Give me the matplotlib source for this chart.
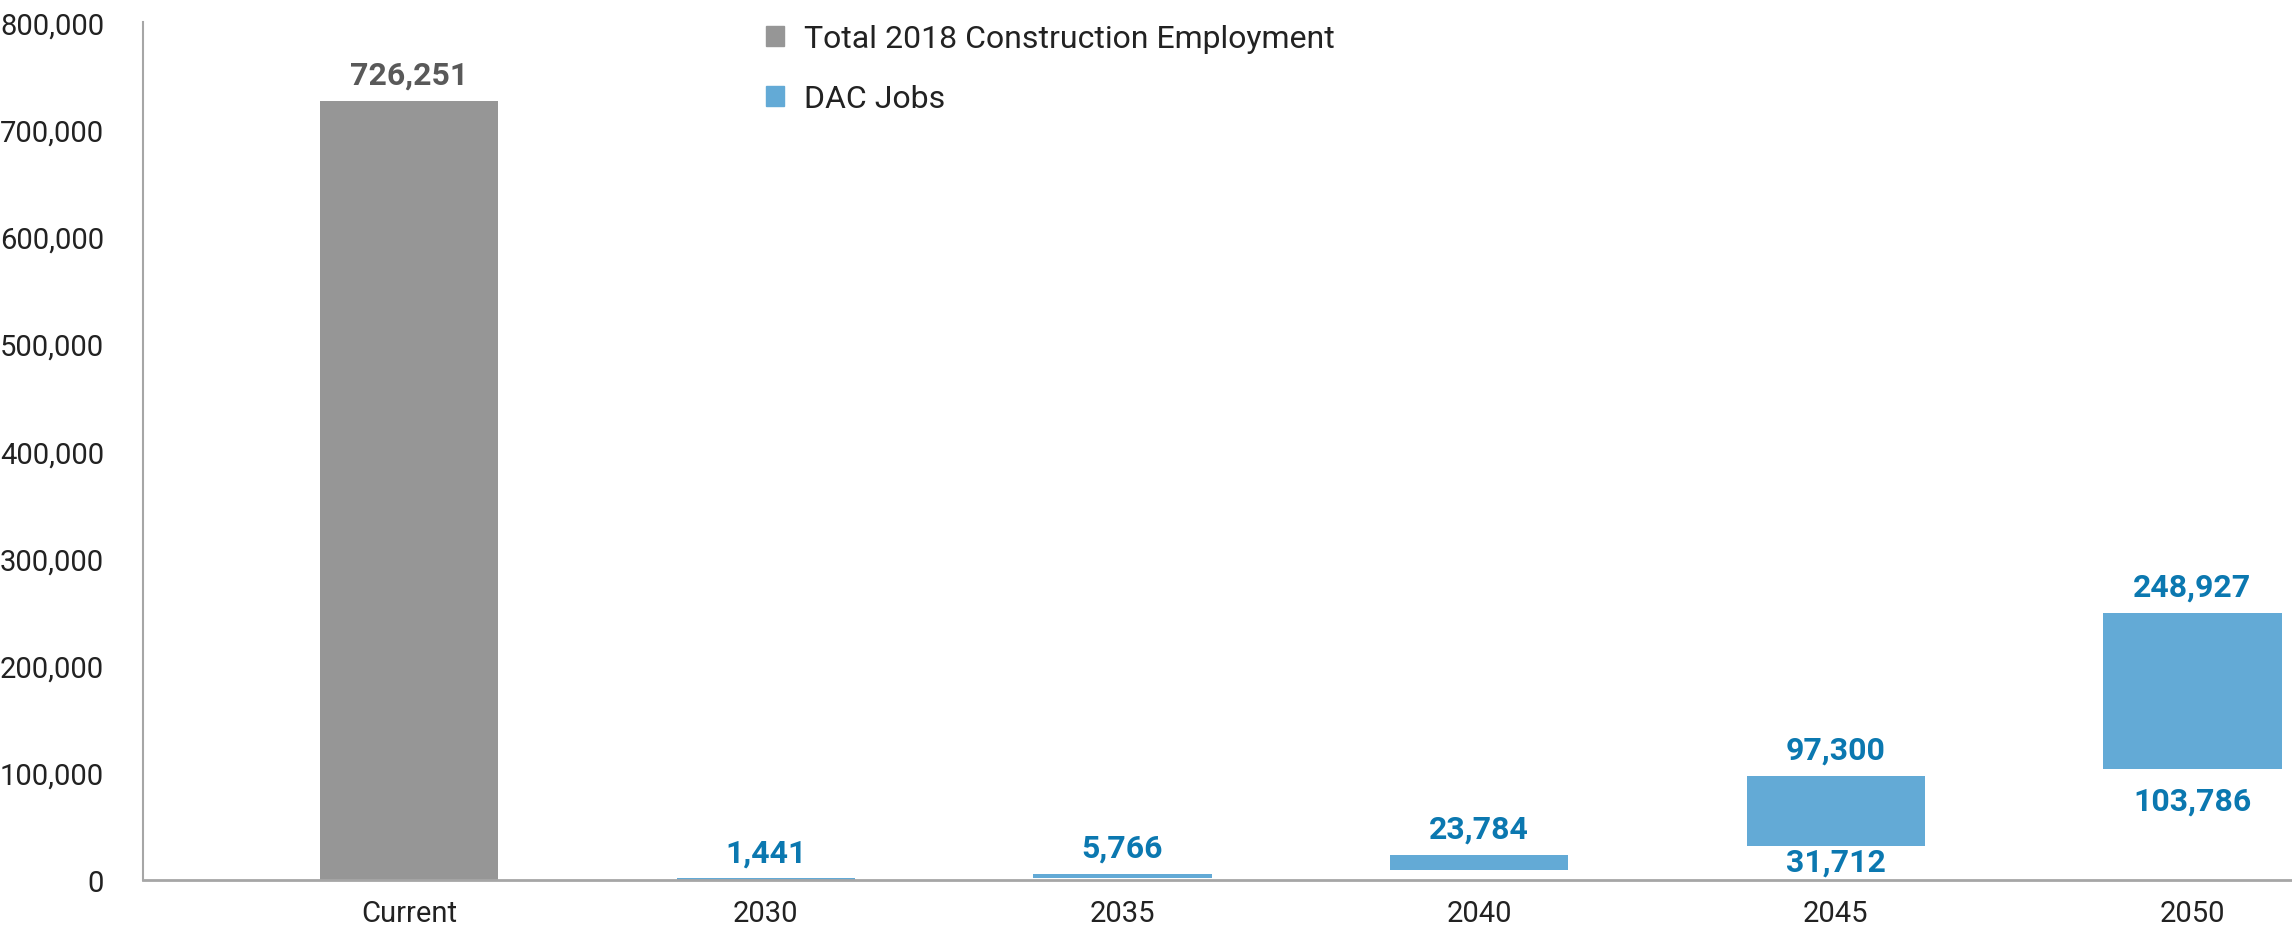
import matplotlib
matplotlib.use("Agg")
import matplotlib.pyplot as plt
from matplotlib.patches import Patch
from matplotlib.ticker import FuncFormatter, MultipleLocator
import numpy as np

# Construction employment vs. projected DAC jobs (low / high estimate)
categories = ["Current", "2030", "2035", "2040", "2045", "2050"]
low_values = [0, 360, 2000, 9500, 31712, 103786]
high_values = [726251, 1441, 5766, 23784, 97300, 248927]
show_low_label = [False, False, False, False, True, True]

GRAY = "#969696"
BLUE = "#63aad6"
LABEL_GRAY = "#595959"
LABEL_BLUE = "#0b78b0"
AXIS = "#a6a6a6"
TEXT = "#222222"

plt.rcParams["font.family"] = ["Roboto", "DejaVu Sans"]

fig = plt.figure(figsize=(22.92, 9.28), dpi=100)
ax = fig.add_axes([0.0624, 0.0506, 0.9376, 0.9244])

x = np.arange(len(categories))
low = np.array(low_values)
high = np.array(high_values)
colors = [GRAY] + [BLUE] * (len(categories) - 1)

ax.bar(x, high - low, bottom=low, width=0.5, color=colors, zorder=2)

for i in range(len(categories)):
    lc = LABEL_GRAY if i == 0 else LABEL_BLUE
    ax.annotate(f"{high[i]:,}", xy=(x[i], high[i]), xytext=(0, 19),
                textcoords="offset points", ha="center", va="center",
                fontsize=23, fontweight="bold", color=lc)
    if show_low_label[i]:
        off = -11 if i == 4 else -23
        ax.annotate(f"{low[i]:,}", xy=(x[i], low[i]), xytext=(0, off),
                    textcoords="offset points", ha="center", va="center",
                    fontsize=23, fontweight="bold", color=lc)

ax.set_xlim(-0.746, 5.279)
ax.set_ylim(0, 800000)
ax.yaxis.set_major_locator(MultipleLocator(100000))
ax.yaxis.set_major_formatter(FuncFormatter(lambda v, p: f"{int(v):,}"))
ax.set_xticks(x)
ax.set_xticklabels(categories)
ax.tick_params(axis="both", length=0, labelsize=21, colors=TEXT)
ax.tick_params(axis="y", pad=28)
ax.tick_params(axis="x", pad=14)

for side in ["top", "right"]:
    ax.spines[side].set_visible(False)
ax.spines["left"].set_color(AXIS)
ax.spines["left"].set_linewidth(1.5)
ax.spines["bottom"].set_color(AXIS)
ax.spines["bottom"].set_linewidth(2)

handles = [Patch(color=GRAY, label="Total 2018 Construction Employment"),
           Patch(color=BLUE, label="DAC Jobs")]
leg = fig.legend(handles=handles, loc="upper left",
                 bbox_to_anchor=(0.3215, 1.004), frameon=False,
                 fontsize=23, handlelength=0.58, handleheight=0.58,
                 handletextpad=0.62, labelspacing=0.98)
for t in leg.get_texts():
    t.set_color(TEXT)

fig.savefig("out.png", dpi=100)
plt.close(fig)
